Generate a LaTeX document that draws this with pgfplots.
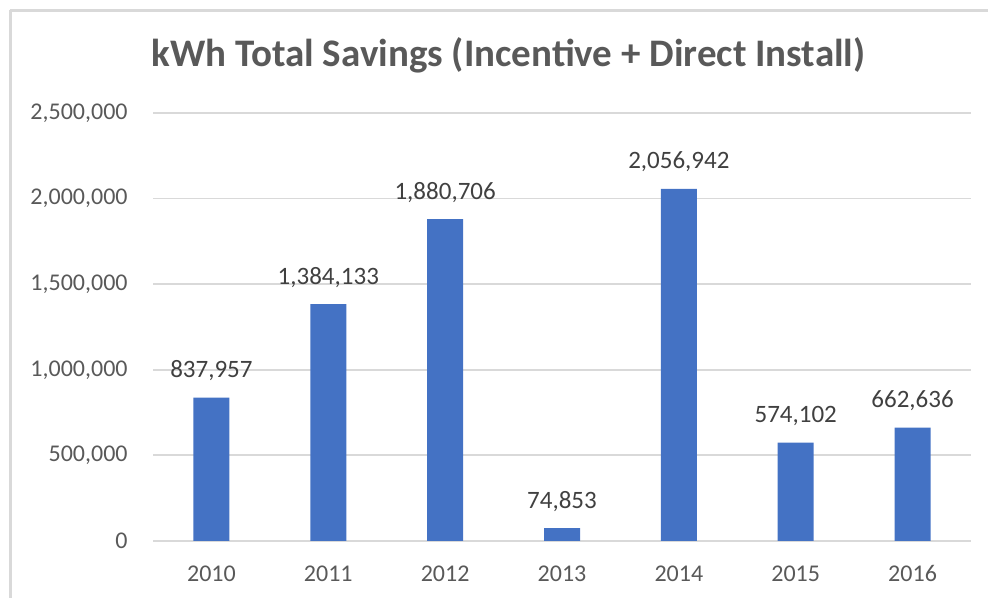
\documentclass[border=0pt]{standalone}
\usepackage{pgfplots}
\pgfplotsset{compat=1.18}
\usepackage{pgfplotstable}
\usepackage{fontspec}
\setmainfont{Carlito}
\definecolor{barblue}{HTML}{4472C4}
\definecolor{gridgray}{HTML}{D9D9D9}
\definecolor{ticktext}{HTML}{595959}
\definecolor{labeltext}{HTML}{404040}
\pgfplotstableread{
x y label
0 837957 837,957
1 1384133 1,384,133
2 1880706 1,880,706
3 74853 74,853
4 2056942 2,056,942
5 574102 574,102
6 662636 662,636
}\datatable
\begin{document}
\begin{tikzpicture}
\path[use as bounding box] (-76.5pt,-28.5pt) rectangle (417.5pt,270.5pt);
\draw[gridgray, line width=1.5pt] (-71.5pt,265.25pt) -- (417.5pt,265.25pt);
\draw[gridgray, line width=1.5pt] (-71pt,265.25pt) -- (-71pt,-28.5pt);
\begin{axis}[
  at={(0pt,0pt)}, anchor=south west,
  scale only axis,
  width=409pt, height=214pt,
  xmin=-0.5, xmax=6.5,
  ymin=0, ymax=2500000,
  ytick={0,500000,1000000,1500000,2000000,2500000},
  yticklabels={0,{500,000},{1,000,000},{1,500,000},{2,000,000},{2,500,000}},
  scaled y ticks=false,
  xtick=data,
  xticklabels={2010,2011,2012,2013,2014,2015,2016},
  axis line style={draw=none,-},
  major tick length=0pt,
  ymajorgrids,
  grid style={gridgray, line width=0.9pt},
  ticklabel style={font=\fontsize{12}{14}\selectfont, text=ticktext},
  xticklabel style={anchor=base, inner sep=0pt, yshift=-20.5pt},
  yticklabel style={anchor=east, inner sep=0pt, xshift=-12.5pt},
  clip=false,
]
\addplot[ybar, bar width=18pt, fill=barblue, draw=none,
  nodes near coords,
  point meta=explicit symbolic,
  every node near coord/.style={anchor=base, inner sep=0pt, yshift=10pt, font=\fontsize{12.5}{14}\selectfont, text=labeltext},
] table[x=x, y=y, meta=label] {\datatable};
\end{axis}
\node[anchor=base, inner sep=0pt, font=\fontsize{19.5}{22}\selectfont\bfseries, text=ticktext] at (177.75pt,237pt) {kWh Total Savings (Incentive + Direct Install)};
\end{tikzpicture}
\end{document}
